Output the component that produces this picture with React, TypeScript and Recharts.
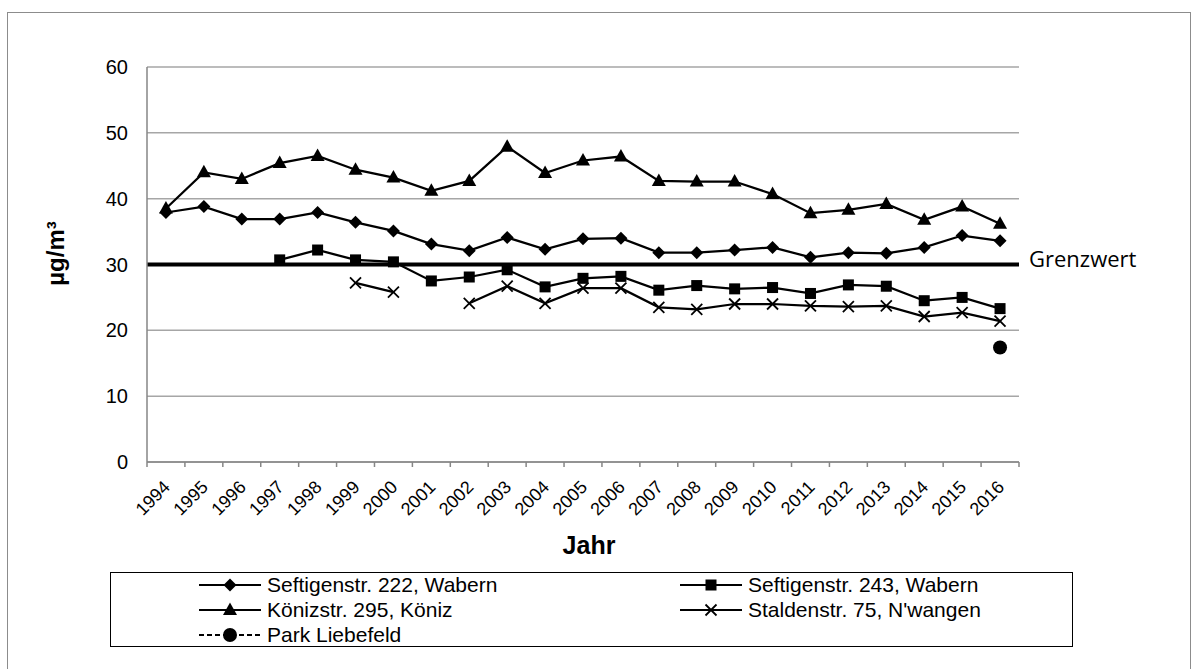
import React from 'react';
import { LineChart, Line, XAxis, YAxis, CartesianGrid, ReferenceLine, Legend } from 'recharts';

const years = [1994, 1995, 1996, 1997, 1998, 1999, 2000, 2001, 2002, 2003, 2004, 2005, 2006, 2007, 2008, 2009, 2010, 2011, 2012, 2013, 2014, 2015, 2016];

const seftigen222 = [37.9, 38.8, 36.9, 36.9, 37.9, 36.4, 35.1, 33.1, 32.1, 34.1, 32.3, 33.9, 34.0, 31.8, 31.8, 32.2, 32.6, 31.1, 31.8, 31.7, 32.6, 34.4, 33.6];
const seftigen243 = [null, null, null, 30.7, 32.2, 30.7, 30.4, 27.5, 28.1, 29.2, 26.6, 27.9, 28.2, 26.1, 26.8, 26.3, 26.5, 25.6, 26.9, 26.7, 24.5, 25.0, 23.3];
const koeniz = [38.5, 44.0, 43.0, 45.4, 46.5, 44.4, 43.2, 41.2, 42.7, 47.9, 43.9, 45.8, 46.4, 42.7, 42.6, 42.6, 40.7, 37.8, 38.3, 39.2, 36.8, 38.8, 36.2];
const stalden = [null, null, null, null, null, 27.2, 25.8, null, 24.1, 26.7, 24.1, 26.4, 26.4, 23.5, 23.2, 24.0, 24.0, 23.7, 23.6, 23.7, 22.1, 22.7, 21.4];
const parkLiebefeld = [null, null, null, null, null, null, null, null, null, null, null, null, null, null, null, null, null, null, null, null, null, null, 17.4];

const yTicks = [0, 10, 20, 30, 40, 50, 60];
const grenzwert = 30;

const seriesDefs = [
  { key: 's222', name: 'Seftigenstr. 222, Wabern', marker: 'diamond', dash: undefined as string | undefined },
  { key: 's243', name: 'Seftigenstr. 243, Wabern', marker: 'square', dash: undefined as string | undefined },
  { key: 'koeniz', name: 'Könizstr. 295, Köniz', marker: 'triangle', dash: undefined as string | undefined },
  { key: 'stalden', name: "Staldenstr. 75, N'wangen", marker: 'x', dash: undefined as string | undefined },
  { key: 'park', name: 'Park Liebefeld', marker: 'circle', dash: '5 3' },
];

const data = years.map((year, i) => ({
  year,
  s222: seftigen222[i],
  s243: seftigen243[i],
  koeniz: koeniz[i],
  stalden: stalden[i],
  park: parkLiebefeld[i],
}));

const xTicks: number[] = [];
years.forEach((y) => {
  xTicks.push(y - 0.5);
  xTicks.push(y);
});
xTicks.push(years[years.length - 1] + 0.5);
const xDomain = [years[0] - 0.5, years[years.length - 1] + 0.5];

const FONT = '"Liberation Sans", Arial, sans-serif';
const AXIS_GRAY = '#868686';

function renderMarker(type: string, cx: number, cy: number, key?: string) {
  switch (type) {
    case 'diamond': {
      const s = 6.5;
      return <path key={key} d={`M${cx},${cy - s}L${cx + s},${cy}L${cx},${cy + s}L${cx - s},${cy}Z`} fill="#000" />;
    }
    case 'square':
      return <rect key={key} x={cx - 5.5} y={cy - 5.5} width={11} height={11} fill="#000" />;
    case 'triangle':
      return <path key={key} d={`M${cx},${cy - 7.5}L${cx + 7},${cy + 5}L${cx - 7},${cy + 5}Z`} fill="#000" />;
    case 'x': {
      const s = 5.5;
      return (
        <g key={key}>
          <line x1={cx - s} y1={cy - s} x2={cx + s} y2={cy + s} stroke="#000" strokeWidth={1.8} />
          <line x1={cx - s} y1={cy + s} x2={cx + s} y2={cy - s} stroke="#000" strokeWidth={1.8} />
        </g>
      );
    }
    case 'circle':
    default:
      return <circle key={key} cx={cx} cy={cy} r={7} fill="#000" />;
  }
}

const makeDot = (type: string) => (props: any) => {
  const { cx, cy, value, index, dataKey } = props;
  const k = `${dataKey}-dot-${index}`;
  if (cx == null || cy == null || value == null || Number.isNaN(cy) || Number.isNaN(cx)) return <g key={k} />;
  return renderMarker(type, cx, cy, k);
};

const XTick = (props: any) => {
  const { x, y, payload } = props;
  const v = payload.value as number;
  if (!Number.isInteger(v)) {
    return <line x1={x} x2={x} y1={y} y2={y + 5} stroke={AXIS_GRAY} strokeWidth={1.5} />;
  }
  const ax = x + 1;
  const ay = y + 22;
  return (
    <text
      x={ax}
      y={ay}
      transform={`rotate(-45 ${ax} ${ay})`}
      textAnchor="end"
      dominantBaseline="central"
      fontSize={18}
      fontFamily={FONT}
      fill="#000"
    >
      {v}
    </text>
  );
};

const LegendBox = (props: any) => {
  const payload = (props.payload || []) as any[];
  const ordered = seriesDefs
    .map((d) => ({ def: d, p: payload.find((p: any) => p.dataKey === d.key) }))
    .filter((o) => o.p);
  return (
    <div
      style={{
        position: 'relative',
        width: 963,
        height: 75,
        border: '1.5px solid #000',
        boxSizing: 'border-box',
        background: '#fff',
      }}
    >
      {ordered.map(({ def, p }, i) => {
        const col = i % 2;
        const row = Math.floor(i / 2);
        return (
          <div
            key={def.key}
            style={{
              position: 'absolute',
              left: col ? 568 : 87,
              top: row * 25,
              height: 24,
              display: 'flex',
              alignItems: 'center',
              whiteSpace: 'nowrap',
            }}
          >
            <svg width={64} height={24} style={{ display: 'block' }}>
              <line x1={1} x2={63} y1={12} y2={12} stroke="#000" strokeWidth={2} strokeDasharray={def.dash} />
              {renderMarker(def.marker, 32, 12)}
            </svg>
            <span style={{ marginLeft: 5, fontSize: 21, fontFamily: FONT, color: '#000', lineHeight: '24px' }}>
              {p.value}
            </span>
          </div>
        );
      })}
    </div>
  );
};

const YTitle = (props: any) => {
  const vb = props.viewBox || { x: 0, y: 67, width: 147, height: 395 };
  const cx = vb.x + 55;
  const cy = vb.y + vb.height / 2 - 11;
  return (
    <text
      x={cx}
      y={cy}
      transform={`rotate(-90 ${cx} ${cy})`}
      textAnchor="middle"
      dominantBaseline="central"
      fontSize={24}
      fontWeight="bold"
      fontFamily={FONT}
      fill="#000"
    >
      µg/m³
    </text>
  );
};

const XTitle = (props: any) => {
  const vb = props.viewBox || { x: 147, y: 462, width: 872, height: 100 };
  return (
    <text
      x={vb.x + vb.width / 2 + 6}
      y={vb.y + 92}
      textAnchor="middle"
      fontSize={25}
      fontWeight="bold"
      fontFamily={FONT}
      fill="#000"
    >
      Jahr
    </text>
  );
};

export default function App() {
  return (
    <div style={{ position: 'absolute', left: 0, top: 0, width: 1192, height: 669, overflow: 'hidden', background: '#fff' }}>
      <div
        style={{
          position: 'absolute',
          left: 7,
          top: 12,
          width: 1184,
          height: 720,
          border: '1.5px solid #8c8c8c',
          boxSizing: 'border-box',
        }}
      />
      <LineChart
        width={1192}
        height={669}
        data={data}
        margin={{ top: 67, right: 173, left: 0, bottom: 107 }}
        style={{ position: 'absolute', left: 0, top: 0 }}
      >
        <CartesianGrid horizontal vertical={false} stroke="#a6a6a6" strokeWidth={1.5} />
        <XAxis
          dataKey="year"
          type="number"
          domain={xDomain}
          ticks={xTicks}
          interval={0}
          height={100}
          tickLine={false}
          tickSize={0}
          tickMargin={0}
          axisLine={{ stroke: AXIS_GRAY, strokeWidth: 1.5 }}
          tick={<XTick />}
          allowDecimals
          label={<XTitle />}
        />
        <XAxis
          xAxisId="top"
          orientation="top"
          dataKey="year"
          type="number"
          domain={xDomain}
          height={0}
          tick={false}
          tickLine={false}
          axisLine={{ stroke: '#000', strokeWidth: 1.5 }}
        />
        <YAxis
          domain={[0, 60]}
          ticks={yTicks}
          width={147}
          tickLine={false}
          tickSize={0}
          tickMargin={19}
          axisLine={{ stroke: AXIS_GRAY, strokeWidth: 1.5 }}
          tick={{ fontSize: 20, fontFamily: FONT, fill: '#000' }}
          label={<YTitle />}
        />
        <YAxis
          yAxisId="right"
          orientation="right"
          domain={[0, 60]}
          width={0}
          tick={false}
          tickLine={false}
          axisLine={{ stroke: '#000', strokeWidth: 1.5 }}
        />
        <ReferenceLine
          y={grenzwert}
          stroke="#000"
          strokeWidth={4}
          label={{
            value: 'Grenzwert',
            position: 'right',
            offset: 10,
            fill: '#000',
            fontSize: 22,
            fontFamily: '"Open Sans", sans-serif',
            dy: -5,
          }}
        />
        {seriesDefs.map((s) => (
          <Line
            key={s.key}
            type="linear"
            dataKey={s.key}
            name={s.name}
            stroke="#000"
            strokeWidth={2.25}
            strokeDasharray={s.dash}
            dot={makeDot(s.marker)}
            activeDot={false}
            connectNulls={false}
            isAnimationActive={false}
          />
        ))}
        <Legend
          layout="horizontal"
          verticalAlign="middle"
          align="center"
          content={<LegendBox />}
          wrapperStyle={{ left: 110, top: 572, width: 963, height: 75 }}
        />
      </LineChart>
    </div>
  );
}
